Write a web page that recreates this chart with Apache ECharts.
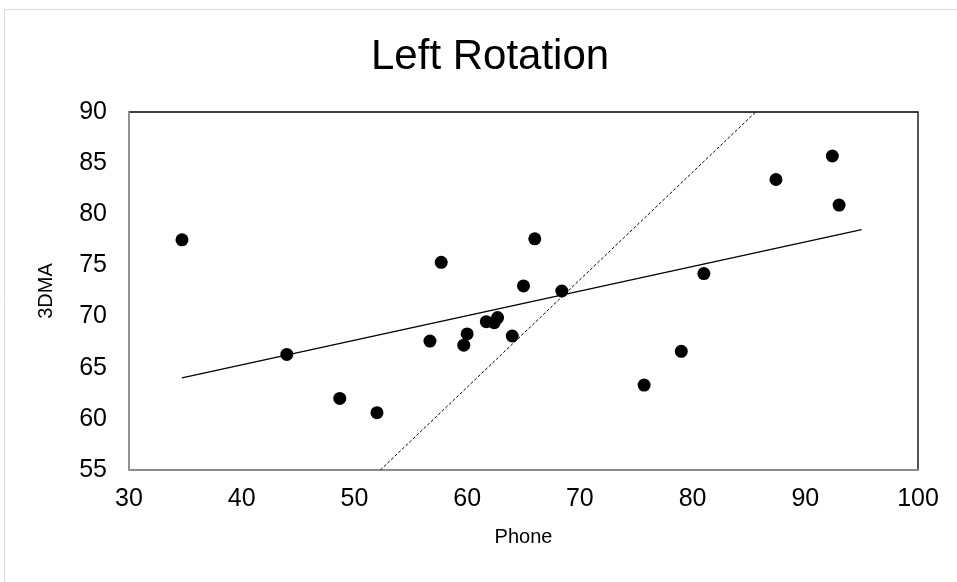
<!DOCTYPE html>
<html>
<head>
    <meta charset="utf-8">
    <script src="https://cdn.jsdelivr.net/npm/echarts@6/dist/echarts.min.js"></script>
    <style>
        html, body { margin: 0; padding: 0; background: #fff; }
        #main { width: 957px; height: 582px; }
    </style>
</head>
<body>
    <div id="main"></div>
    <script type="text/javascript">
        // scatter points
        var phone = [34.7, 44.0, 48.7, 52.0, 57.7, 66.0, 65.0, 68.4, 56.7, 60.0, 59.7,
                     61.7, 62.4, 62.7, 64.0, 75.7, 79.0, 81.0, 87.4, 92.4, 93.0];
        var dma = [77.5, 66.3, 62.0, 60.6, 75.3, 77.6, 73.0, 72.5, 67.6, 68.3, 67.2,
                   69.5, 69.4, 69.9, 68.1, 63.3, 66.6, 74.2, 83.4, 85.7, 80.9];

        // linear trend line (solid)
        var trendX = [34.7, 95.0];
        var trendY = [64.0, 78.5];

        // rotated axis line (dashed)
        var rotX = [52.3, 85.6];
        var rotY = [55, 90];

        var xTicks = [30, 100, 10];
        var yTicks = [55, 90, 5];

        function pairs(xs, ys) {
            return xs.map(function (x, i) { return [x, ys[i]]; });
        }

        var font = 'Liberation Sans, Arial, sans-serif';
        var myChart = echarts.init(document.getElementById('main'));
        myChart.setOption({
            animation: false,
            title: {
                text: 'Left Rotation',
                left: 371,
                top: 36,
                padding: 0,
                textStyle: { fontFamily: font, fontSize: 42, fontWeight: 'normal', color: '#000' }
            },
            graphic: [{
                type: 'rect',
                shape: { x: 4.5, y: 9.5, width: 1000, height: 700 },
                style: { fill: 'none', stroke: '#d9d9d9', lineWidth: 1 },
                silent: true
            }],
            grid: {
                left: 129, top: 112, width: 789, height: 358,
                show: true, borderColor: '#000', borderWidth: 1.3
            },
            xAxis: {
                type: 'value',
                min: xTicks[0], max: xTicks[1], interval: xTicks[2],
                name: 'Phone',
                nameLocation: 'middle',
                nameGap: 57,
                nameTextStyle: { fontFamily: font, fontSize: 20, color: '#000' },
                axisLine: { show: true, onZero: false, lineStyle: { color: '#a6a6a6', width: 1.5 } },
                axisTick: { show: false },
                splitLine: { show: false },
                axisLabel: { margin: 17, fontFamily: font, fontSize: 25, color: '#000' }
            },
            yAxis: {
                type: 'value',
                min: yTicks[0], max: yTicks[1], interval: yTicks[2],
                name: '3DMA',
                nameLocation: 'middle',
                nameGap: 73,
                nameTextStyle: { fontFamily: font, fontSize: 20, color: '#000' },
                axisLine: { show: true, onZero: false, lineStyle: { color: '#a6a6a6', width: 1.5 } },
                axisTick: { show: false },
                splitLine: { show: false },
                axisLabel: { margin: 22, fontFamily: font, fontSize: 25, color: '#000' }
            },
            series: [
                {
                    type: 'line',
                    data: pairs(rotX, rotY),
                    symbol: 'none',
                    lineStyle: { color: '#000', width: 1, type: [3, 2] },
                    z: 2
                },
                {
                    type: 'line',
                    data: pairs(trendX, trendY),
                    symbol: 'none',
                    lineStyle: { color: '#000', width: 1.3 },
                    z: 2
                },
                {
                    type: 'scatter',
                    data: pairs(phone, dma),
                    symbolSize: 13,
                    itemStyle: { color: '#000', opacity: 1 },
                    z: 3
                }
            ]
        });
    </script>
</body>
</html>
